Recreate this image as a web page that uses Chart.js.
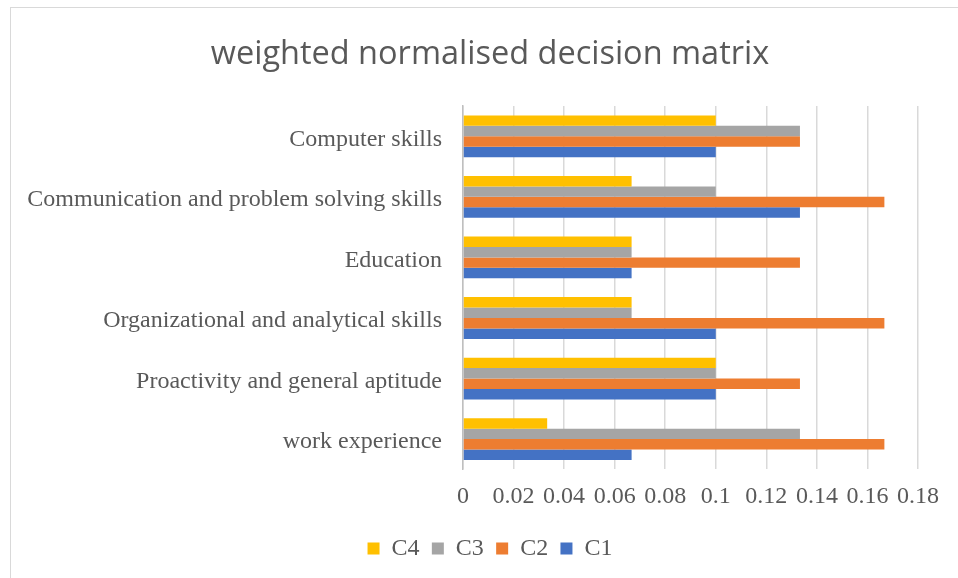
<!DOCTYPE html>
<html>
<head>
<meta charset="utf-8">
<script src="https://cdn.jsdelivr.net/npm/chart.js@4"></script>
<style>
  body { margin: 0; background: #fff; }
  .container { position: relative; width: 958px; height: 578px; overflow: hidden; }
  .frame { position: absolute; left: 10px; top: 7px; width: 2000px; height: 2000px;
           border-left: 1.5px solid #d9d9d9; border-top: 1.5px solid #d9d9d9; }
  canvas { position: absolute; left: 0; top: 0; }
</style>
</head>
<body>
<div class="container">
  <div class="frame"></div>
  <canvas id="myChart" width="958" height="578"></canvas>
</div>
<script>
var labels = ['Computer skills', 'Communication and problem solving skills', 'Education',
              'Organizational and analytical skills', 'Proactivity and general aptitude', 'work experience'];
var c4 = [0.1, 0.0667, 0.0667, 0.0667, 0.1, 0.0333];
var c3 = [0.1333, 0.1, 0.0667, 0.0667, 0.1, 0.1333];
var c2 = [0.1333, 0.1667, 0.1333, 0.1667, 0.1333, 0.1667];
var c1 = [0.1, 0.1333, 0.0667, 0.1, 0.1, 0.0667];
var xTicks = ['0', '0.02', '0.04', '0.06', '0.08', '0.1', '0.12', '0.14', '0.16', '0.18'];

var serif = "'Liberation Serif', 'Times New Roman', serif";
var myChart;

// the y axis sits inside the left padding, so let its long labels run into it without being clipped
var unclipLabels = {
    id: 'unclipLabels',
    afterLayout: function(chart) {
        chart.scales.y.left = 0;
    }
};

document.addEventListener('DOMContentLoaded', function() {
    var ctx = document.getElementById('myChart').getContext('2d');
    myChart = new Chart(ctx, {
        type: 'bar',
        data: {
            labels: labels,
            datasets: [
                { label: 'C4', data: c4, backgroundColor: '#FFC000' },
                { label: 'C3', data: c3, backgroundColor: '#A5A5A5' },
                { label: 'C2', data: c2, backgroundColor: '#ED7D31' },
                { label: 'C1', data: c1, backgroundColor: '#4472C4' }
            ]
        },
        plugins: [unclipLabels],
        options: {
            indexAxis: 'y',
            responsive: false,
            animation: false,
            datasets: {
                bar: { categoryPercentage: 0.69, barPercentage: 1.0 }
            },
            // left padding centres the title/legend like the original; y axis width makes up the rest
            layout: { padding: { left: 62, right: 40, top: 0, bottom: 7.5 } },
            plugins: {
                tooltip: { enabled: false },
                title: {
                    display: true,
                    text: 'weighted normalised decision matrix',
                    color: '#595959',
                    font: { family: "'Open Sans', sans-serif", size: 32.5, weight: 'normal' },
                    padding: { top: 35, bottom: 32 }
                },
                legend: {
                    position: 'bottom',
                    labels: {
                        color: '#595959',
                        font: { family: serif, size: 24 },
                        boxWidth: 12,
                        boxHeight: 12,
                        padding: 12.3
                    }
                }
            },
            scales: {
                x: {
                    min: 0,
                    max: 0.18,
                    ticks: {
                        stepSize: 0.02,
                        color: '#595959',
                        font: { family: serif, size: 24 },
                        padding: 13,
                        callback: function(value, index) { return xTicks[index]; }
                    },
                    grid: { color: '#d9d9d9', lineWidth: 1.5, drawTicks: false },
                    border: { display: false }
                },
                y: {
                    ticks: {
                        color: '#595959',
                        font: { family: serif, size: 24 },
                        padding: 21,
                        labelOffset: 3
                    },
                    grid: { display: false, drawTicks: false },
                    border: { display: true, color: '#bfbfbf', width: 1.5 },
                    afterFit: function(scale) { scale.width = 401; }
                }
            }
        }
    });
});
</script>
</body>
</html>
